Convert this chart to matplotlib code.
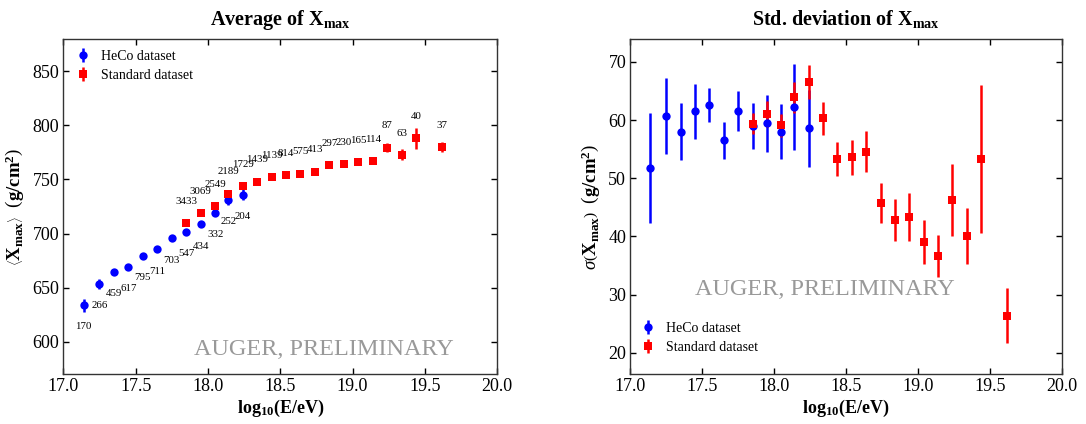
import matplotlib
matplotlib.use("Agg")
import matplotlib.pyplot as plt

plt.rcParams['font.family'] = ['Liberation Serif', 'DejaVu Serif']
plt.rcParams['mathtext.fontset'] = 'custom'
plt.rcParams['mathtext.rm'] = 'Liberation Serif'
plt.rcParams['mathtext.it'] = 'Liberation Serif:italic'
plt.rcParams['mathtext.bf'] = 'Liberation Serif:bold'

# ---- data ----
heco_x = [17.14, 17.25, 17.35, 17.45, 17.55, 17.65, 17.75, 17.85, 17.95, 18.05, 18.14, 18.24]
heco_mean = [633.7, 653.5, 664.5, 669.1, 679.3, 685.3, 695.5, 701.4, 708.4, 719.4, 731.2, 736.0]
heco_mean_err = [6.2, 4.6, 2.5, 2.2, 2.0, 2.0, 2.0, 2.0, 2.0, 2.5, 5.0, 5.0]
heco_sigma = [51.8, 60.7, 58.0, 61.5, 62.6, 56.5, 61.6, 59.0, 59.5, 58.0, 62.3, 58.6]
heco_sigma_err = [9.4, 6.5, 4.9, 4.7, 3.0, 3.2, 3.4, 3.9, 4.9, 4.7, 7.4, 6.6]
heco_n = ['170', '266', '459', '617', '795', '711', '703', '547', '434', '332', '252', '204']

std_x = [17.85, 17.95, 18.05, 18.14, 18.24, 18.34, 18.44, 18.54, 18.64, 18.74,
         18.84, 18.94, 19.04, 19.14, 19.24, 19.34, 19.44, 19.62]
std_mean = [709.7, 719.2, 725.6, 737.0, 744.1, 748.0, 752.1, 754.2, 755.4, 757.2,
            763.1, 764.3, 766.2, 766.8, 779.4, 772.9, 788.0, 779.7]
std_mean_err = [1.5, 1.5, 1.5, 1.5, 1.5, 1.5, 1.5, 1.5, 1.5, 1.5,
                2.0, 2.0, 2.0, 2.5, 4.5, 5.0, 9.6, 4.6]
std_sigma = [59.4, 61.1, 59.1, 63.9, 66.6, 60.3, 53.3, 53.6, 54.6, 45.8,
             42.8, 43.4, 39.0, 36.7, 46.3, 40.1, 53.3, 26.4]
std_sigma_err = [1.8, 2.2, 2.0, 2.6, 2.9, 2.8, 2.9, 3.0, 3.5, 3.4,
                 3.6, 4.1, 3.8, 3.6, 6.2, 4.8, 12.7, 4.7]
std_n = ['3433', '3069', '2549', '2189', '1729', '1439', '1139', '814', '575', '413',
         '297', '230', '165', '114', '87', '63', '40', '37']

xticks = [17.0, 17.5, 18.0, 18.5, 19.0, 19.5, 20.0]

fig = plt.figure(figsize=(10.86, 4.24), dpi=100)
ax1 = fig.add_axes([0.0583, 0.1172, 0.3995, 0.7915])
ax2 = fig.add_axes([0.5804, 0.1172, 0.3972, 0.7915])

ekw = dict(linestyle='none', elinewidth=1.8, capsize=0, markeredgewidth=0)
lkw = dict(frameon=False, fontsize=10, handletextpad=0.8, handlelength=1.0,
           borderaxespad=0.0, numpoints=1, labelspacing=0.45)

for ax in (ax1, ax2):
    ax.set_xlim(17.0, 20.0)
    ax.set_xticks(xticks)
    ax.set_xticklabels([f'{t:.1f}' for t in xticks])
    ax.tick_params(direction='in', top=True, right=True, labelsize=13,
                   length=4, width=1, pad=3)
    for s in ax.spines.values():
        s.set_linewidth(1.0)
        s.set_color('#333333')
    ax.set_xlabel(r'$\mathbf{log_{10}(E/eV)}$', fontsize=13, labelpad=2)

# left panel
ax1.errorbar(heco_x, heco_mean, yerr=heco_mean_err, fmt='o', color='blue',
             markersize=6, label='HeCo dataset', **ekw)
ax1.errorbar(std_x, std_mean, yerr=std_mean_err, fmt='s', color='red',
             markersize=5.5, label='Standard dataset', **ekw)
for x, y, n in zip(heco_x, heco_mean, heco_n):
    ax1.text(x, y - 20, n, fontsize=7.8, ha='center', va='center')
for x, y, n in zip(std_x, std_mean, std_n):
    ax1.text(x, y + 20, n, fontsize=7.8, ha='center', va='center')
ax1.set_ylim(570, 880)
ax1.set_yticks([600, 650, 700, 750, 800, 850])
ax1.set_title(r'Average of $\mathbf{X_{max}}$', fontsize=14.5, fontweight='bold', pad=10)
ax1.set_ylabel(r'$\left\langle\mathbf{X_{max}}\right\rangle\ \ \left(\mathbf{g/cm^2}\right)$',
               fontsize=13.5, labelpad=4)
ax1.text(18.8, 593, 'AUGER, PRELIMINARY', fontsize=17.5, color='#999999',
         ha='center', va='center')
ax1.legend(loc='upper left', bbox_to_anchor=(0.0155, 0.984), **lkw)

# right panel
ax2.errorbar(heco_x, heco_sigma, yerr=heco_sigma_err, fmt='o', color='blue',
             markersize=6, label='HeCo dataset', **ekw)
ax2.errorbar(std_x, std_sigma, yerr=std_sigma_err, fmt='s', color='red',
             markersize=5.5, label='Standard dataset', **ekw)
ax2.set_ylim(16.3, 74)
ax2.set_yticks([20, 30, 40, 50, 60, 70])
ax2.set_title(r'Std. deviation of $\mathbf{X_{max}}$', fontsize=14.5, fontweight='bold', pad=10)
ax2.set_ylabel(r'$\sigma\left(\mathbf{X_{max}}\right)\ \ \left(\mathbf{g/cm^2}\right)$',
               fontsize=13.5, labelpad=4)
ax2.text(18.35, 30.8, 'AUGER, PRELIMINARY', fontsize=17.5, color='#999999',
         ha='center', va='center')
ax2.legend(loc='lower left', bbox_to_anchor=(0.013, 0.044), **lkw)

fig.savefig('out.png', dpi=100)
